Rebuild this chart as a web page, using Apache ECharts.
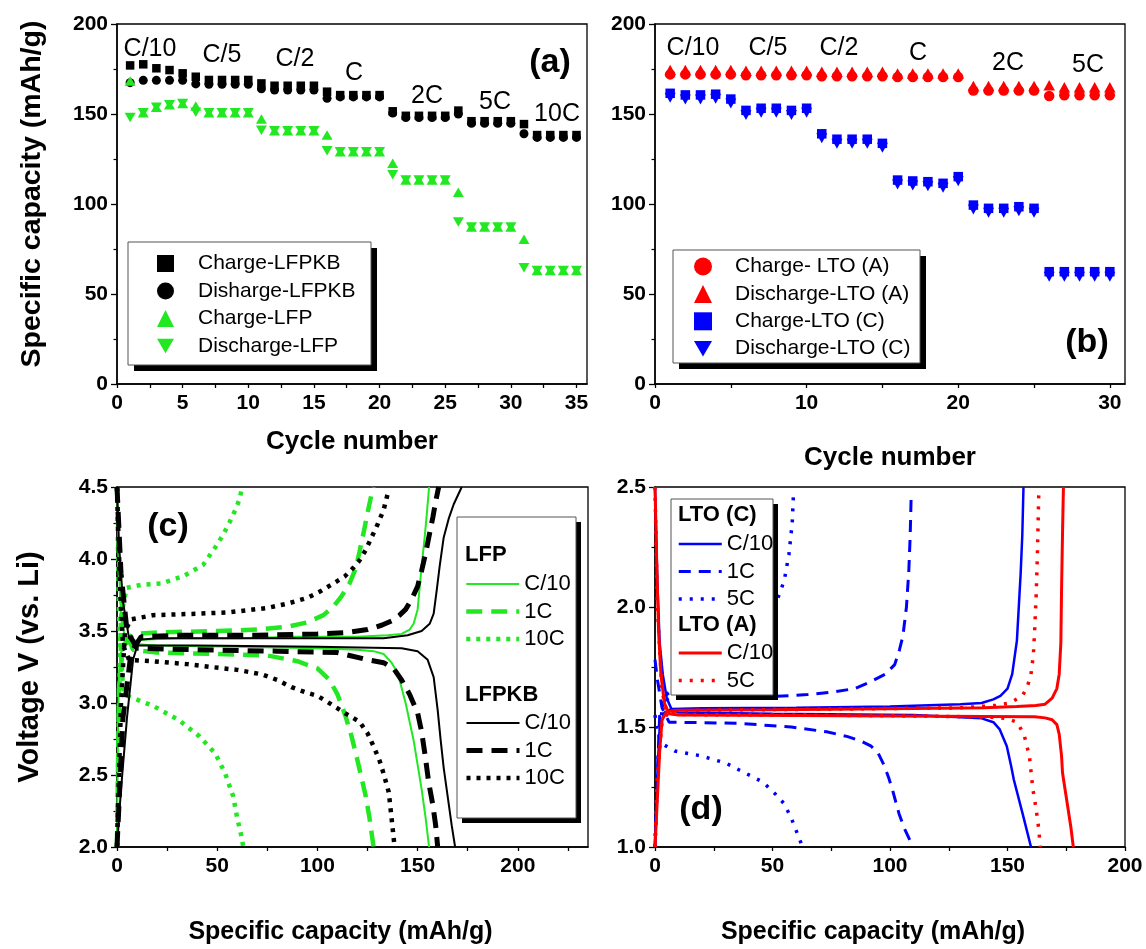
<!DOCTYPE html>
<html>
<head>
<meta charset="utf-8">
<script src="https://cdn.jsdelivr.net/npm/echarts@6/dist/echarts.min.js"></script>
<style>
html, body { margin: 0; padding: 0; background: #fff; }
#chart { width: 1146px; height: 949px; }
</style>
</head>
<body>
<div id="chart"></div>
<script>
// ---------- (a) rate capability, LFP vs LFPKB ----------
const cycleA = [1,2,3,4,5,6,7,8,9,10,11,12,13,14,15,16,17,18,19,20,21,22,23,24,25,26,27,28,29,30,31,32,33,34,35];
const chargeLFPKB = [177,177.6,175.4,174.4,172.6, 170.7,168.9,168.9,168.9,168.9, 167,165.7,165.7,165.7,165.7, 162.4,160.5,160.5,160.5,160.5, 151.5,149,149,149,149, 151.9,146,146,146,146, 144.4,138.3,138.3,138.3,138.3];
const dischargeLFPKB = [167.4,168.7,168.7,168.7,168.7, 166.7,166.5,166.5,166.5,166.5, 164,163.3,163.3,163.3,163.3, 158.7,159.5,159.5,159.5,159.5, 150.5,148,148,148,148, 150,144.8,144.8,144.8,144.8, 139,137,137,137,137];
const chargeLFP = [168.3,150.7,153.7,155.2,155.9, 154.4,150.7,150.7,150.7,150.7, 147.2,140.7,140.7,140.7,140.7, 138.3,129,129,129,129, 122.6,113.3,113.3,113.3,113.3, 106.5,87.2,87.2,87.2,87.2, 80.4,63.1,63.1,63.1,63.1];
const dischargeLFP = [148,150.7,153.7,155.2,155.9, 151,150.7,150.7,150.7,150.7, 141,140.7,140.7,140.7,140.7, 129.6,129,129,129,129, 116.3,113.3,113.3,113.3,113.3, 90,87.2,87.2,87.2,87.2, 64.6,63.1,63.1,63.1,63.1];
const rateLabelsA = ['C/10','C/5','C/2','C','2C','5C','10C'];

// ---------- (b) rate capability, LTO (A) vs LTO (C) ----------
const cycleB = [1,2,3,4,5,6,7,8,9,10,11,12,13,14,15,16,17,18,19,20,21,22,23,24,25,26,27,28,29,30];
const chargeLTOA = [172,172,172,172,172, 171.5,171.5,171.5,171.5,171.5, 171,171,171,171,171, 170.5,170.5,170.5,170.5,170.5, 163,163,163,163,163, 160,160.4,160.4,160.4,160.4];
const dischargeLTOA = [174.4,174.4,174.4,174.4,174.4, 174,174,174,174,174, 173.5,173.5,173.5,173.5,173.5, 172.5,172.5,172.5,172.5,172.5, 165.5,165.5,165.5,165.5,165.5, 166,164.8,164.8,164.8,164.8];
const chargeLTOC = [161.5,160.6,160.6,161,158.3, 152,153.2,153.2,152,153.2, 139,136,136,136,133.7, 113.3,112.8,112.4,111.5,115.2, 99.4,97.6,97.6,98.5,97.6, 62.4,62.4,62.4,62.4,62.4];
const dischargeLTOC = [159,158.1,158.1,158.5,155.8, 149.5,150.7,150.7,149.5,150.7, 136.5,133.5,133.5,133.5,131.2, 110.8,110.3,109.9,109,112.7, 96.9,95.1,95.1,96,95.1, 59.6,59.6,59.6,59.6,59.6];
const rateLabelsB = ['C/10','C/5','C/2','C','2C','5C'];

// ---------- (c) voltage profiles, LFP and LFPKB ----------
const lfpC10Charge = [[0,2.0],[0.5,2.8],[1,3.2],[2,3.35],[4,3.40],[8,3.43],[12,3.44],[30,3.45],[60,3.45],[90,3.46],[120,3.46],[135,3.47],[142,3.48],[146,3.51],[148,3.55],[150,3.65],[151,3.80],[152,3.95],[153.5,4.15],[154.5,4.3],[155.7,4.5]];
const lfpC10Discharge = [[0,4.5],[0.8,4.0],[2,3.6],[4,3.45],[8,3.41],[20,3.40],[60,3.39],[100,3.38],[120,3.37],[128,3.36],[133,3.34],[137,3.28],[140,3.21],[144,3.00],[148,2.74],[150,2.57],[152,2.40],[154,2.2],[155.7,2.0]];
const lfp1CCharge = [[0,2.0],[1,3.1],[3,3.4],[8,3.48],[20,3.49],[50,3.50],[70,3.51],[85,3.53],[95,3.56],[103,3.61],[108,3.67],[112,3.74],[116,3.83],[119,3.93],[121,4.05],[123,4.18],[125,4.32],[127,4.45],[128,4.5]];
const lfp1CDischarge = [[0,4.5],[1,4.0],[3,3.55],[8,3.37],[20,3.35],[50,3.34],[75,3.33],[90,3.29],[100,3.24],[106,3.16],[110,3.06],[114,2.91],[117,2.77],[119.5,2.63],[122,2.48],[124,2.36],[126,2.2],[128,2.0]];
const lfp10CCharge = [[0,2.0],[1,3.0],[2,3.6],[4.8,3.80],[12,3.82],[22,3.83],[33,3.88],[38,3.92],[43,3.96],[49,4.08],[53,4.17],[56,4.25],[59,4.34],[61,4.41],[62.5,4.5]];
const lfp10CDischarge = [[0,4.5],[1,3.6],[3,3.1],[5,3.05],[18,2.98],[31,2.88],[41,2.77],[49,2.65],[54,2.51],[58,2.35],[60,2.2],[62,2.08],[63,2.0]];
const lfpkbC10Charge = [[0,2.0],[2,2.4],[5,2.9],[8,3.3],[11,3.44],[20,3.45],[60,3.45],[100,3.45],[133,3.45],[145,3.47],[152,3.50],[156,3.55],[158,3.62],[159.5,3.78],[161,3.95],[163,4.15],[165.5,4.28],[168,4.38],[172,4.5]];
const lfpkbC10Discharge = [[0,4.5],[1,4.1],[3,3.7],[6,3.45],[10,3.40],[40,3.40],[100,3.39],[142,3.38],[150,3.36],[155,3.30],[158,3.18],[160,2.95],[161.5,2.74],[163,2.55],[165,2.35],[167,2.15],[168.7,2.0]];
const lfpkb1CCharge = [[0,2.0],[3,2.9],[7,3.35],[12,3.46],[30,3.47],[70,3.47],[100,3.48],[115,3.49],[125,3.51],[132,3.54],[137,3.57],[141,3.61],[144,3.65],[147,3.72],[150,3.81],[152,3.92],[154,4.04],[156,4.18],[157.6,4.29],[159,4.40],[160.5,4.5]];
const lfpkb1CDischarge = [[0,4.5],[2,3.9],[5,3.5],[10,3.38],[40,3.37],[80,3.36],[110,3.35],[125,3.30],[133,3.28],[138,3.24],[142,3.16],[146,3.06],[150,2.93],[152,2.80],[153.8,2.63],[155.5,2.45],[157.6,2.29],[159,2.15],[160,2.0]];
const lfpkb10CCharge = [[0,2.0],[2,3.0],[4,3.5],[7,3.58],[18,3.61],[40,3.62],[56,3.63],[75,3.66],[85,3.69],[95,3.73],[102,3.78],[108,3.83],[113.7,3.88],[118,3.94],[121,3.99],[124,4.06],[127,4.15],[130,4.24],[133,4.34],[135,4.45]];
const lfpkb10CDischarge = [[0,4.5],[1.5,3.8],[3,3.4],[6,3.30],[18,3.29],[35,3.27],[47,3.25],[60,3.23],[72,3.20],[80,3.16],[87,3.11],[95,3.07],[100,3.05],[107,2.99],[113.7,2.93],[121,2.87],[125,2.79],[128,2.70],[131,2.60],[133,2.51],[135.6,2.38],[137,2.2],[138.5,2.0]];

// ---------- (d) voltage profiles, LTO (C) and LTO (A) ----------
const ltoCC10Charge = [[0,1.0],[1,1.3],[2,1.5],[4,1.56],[7,1.575],[20,1.578],[60,1.58],[100,1.585],[130,1.595],[139,1.60],[144,1.615],[147,1.63],[150,1.66],[152,1.72],[154,1.86],[155.6,2.14],[156.3,2.3],[156.8,2.5]];
const ltoCC10Discharge = [[0,2.5],[1,2.1],[2,1.85],[3.3,1.72],[5,1.62],[7,1.575],[10,1.56],[50,1.555],[110,1.55],[139,1.536],[144,1.52],[146.7,1.49],[149.7,1.42],[151.5,1.34],[152.7,1.28],[156.4,1.14],[160,1.0]];
const ltoC1CCharge = [[0,1.0],[1,1.3],[2,1.55],[4,1.61],[8,1.625],[30,1.626],[50,1.627],[65,1.635],[75,1.645],[85,1.66],[92,1.69],[98,1.72],[102,1.76],[104,1.82],[105.5,1.88],[107,2.0],[108,2.15],[108.6,2.3],[109,2.46]];
const ltoC1CDischarge = [[0,1.78],[1,1.70],[3,1.58],[6,1.52],[20,1.518],[36,1.515],[58,1.50],[73,1.48],[82,1.46],[88,1.44],[92,1.42],[95,1.39],[97.5,1.34],[99.4,1.29],[101,1.24],[103.8,1.14],[106,1.08],[109.8,1.0]];
const ltoC5CCharge = [[0,1.0],[1,1.3],[2,1.5],[4,1.63],[10,1.67],[20,1.71],[30,1.76],[40,1.83],[46,1.90],[50,1.97],[52,2.03],[55,2.11],[57,2.22],[58.4,2.35],[59,2.49]];
const ltoC5CDischarge = [[0,1.55],[1,1.48],[3,1.43],[8.4,1.40],[19.5,1.38],[30,1.35],[36,1.32],[46,1.27],[51.3,1.22],[55,1.18],[58,1.12],[60,1.07],[62,1.02],[62.5,1.0]];
const ltoAC10Charge = [[0,1.0],[1,1.2],[2,1.4],[3,1.53],[5,1.565],[10,1.57],[50,1.572],[100,1.576],[140,1.58],[154,1.585],[162,1.59],[166,1.595],[169,1.62],[171,1.66],[172,1.72],[172.7,1.85],[173,2.07],[173.4,2.3],[173.8,2.5]];
const ltoAC10Discharge = [[0,2.5],[0.7,2.2],[1.5,1.9],[2.5,1.72],[4,1.6],[6,1.555],[10,1.55],[60,1.548],[120,1.545],[161.5,1.543],[166,1.538],[169,1.53],[171,1.51],[172,1.47],[173,1.38],[173.4,1.31],[174.5,1.24],[175.6,1.17],[177,1.08],[178,1.0]];
const ltoA5CCharge = [[0,1.0],[1,1.3],[3,1.52],[6,1.565],[20,1.57],[80,1.575],[130,1.58],[145,1.59],[151,1.60],[156.4,1.63],[158.5,1.67],[160,1.72],[161,1.8],[161.5,1.89],[162.2,2.05],[162.7,2.21],[163.3,2.47]];
const ltoA5CDischarge = [[0,2.5],[1,2.0],[3,1.65],[5,1.56],[10,1.552],[60,1.55],[120,1.545],[145,1.54],[150,1.535],[154,1.52],[157,1.47],[159.3,1.38],[160.8,1.24],[162,1.17],[163,1.10],[164,1.0]];

// ---------- styling ----------
const FONT = "'Liberation Sans', Arial, Helvetica, sans-serif";
const GREEN = '#22e822', BLACK = '#000000', RED = '#ff0000', BLUE = '#0000ff';
const DOWN_TRIANGLE = 'path://M0,0L12,0L6,10.4Z';

const pairs = (xs, ys) => xs.map((x, i) => [x, ys[i]]);

function axisBase() {
  return {
    type: 'value',
    axisLine: { show: true, onZero: false, lineStyle: { color: '#000', width: 1.5 } },
    axisTick: { show: true, inside: false, length: 6, lineStyle: { color: '#000', width: 1.3 } },
    minorTick: { show: true, splitNumber: 2, length: 3.5, lineStyle: { color: '#000', width: 1.2 } },
    splitLine: { show: false },
    minorSplitLine: { show: false },
    axisLabel: { color: '#000', fontFamily: FONT, fontWeight: 'bold', fontSize: 21, margin: 9 },
    nameLocation: 'middle',
    nameTextStyle: { color: '#000', fontFamily: FONT, fontWeight: 'bold', fontSize: 26 }
  };
}
function xAxis(gridIndex, min, max, interval, name, nameGap, tickValues, nameShift, nameSize) {
  const a = axisBase();
  a.gridIndex = gridIndex; a.min = min; a.max = max; a.interval = interval;
  a.name = name; a.nameGap = nameGap;
  a.axisLabel.showMaxLabel = (max % interval === 0);
  if (nameShift) a.nameTextStyle.padding = [0, nameShift, 0, 0];
  if (nameSize) a.nameTextStyle.fontSize = nameSize;
  if (tickValues) {
    a.axisTick.customValues = tickValues;
    a.axisTick.length = 4;
    a.minorTick.show = false;
  }
  return a;
}
function yAxis(gridIndex, min, max, interval, name, nameGap, fmt, nameSize, nameShift) {
  const a = axisBase();
  a.gridIndex = gridIndex; a.min = min; a.max = max; a.interval = interval;
  a.name = name; a.nameGap = nameGap;
  if (nameSize) a.nameTextStyle.fontSize = nameSize;
  if (nameShift) a.nameTextStyle.padding = [0, 0, 0, nameShift];
  if (fmt) a.axisLabel.formatter = fmt;
  return a;
}
function scatter(name, idx, xs, ys, symbol, size, color) {
  return { name, type: 'scatter', xAxisIndex: idx, yAxisIndex: idx, symbol, symbolSize: size,
    itemStyle: { color, opacity: 1 }, data: pairs(xs, ys), silent: true };
}
function curve(name, idx, data, color, width, dash) {
  return { name, type: 'line', xAxisIndex: idx, yAxisIndex: idx, data, symbol: 'none', showSymbol: false,
    color, lineStyle: { color, width, type: dash, cap: 'butt' }, silent: true, z: 2 };
}
function range(a, b, s) { const r = []; for (let v = a; v <= b + 1e-9; v += s) r.push(+v.toFixed(3)); return r; }
const fmt1 = v => v.toFixed(1);

const DASH_G = [16, 9], DOT_G = [4, 6];
const DASH_D = [12, 8], DOT_D = [3, 8];

const series = [
  // (a)
  scatter('Charge-LFPKB', 0, cycleA, chargeLFPKB, 'rect', 8.5, BLACK),
  scatter('Disharge-LFPKB', 0, cycleA, dischargeLFPKB, 'circle', 9, BLACK),
  scatter('Charge-LFP', 0, cycleA, chargeLFP, 'triangle', [11, 9.5], GREEN),
  scatter('Discharge-LFP', 0, cycleA, dischargeLFP, DOWN_TRIANGLE, [11, 9.5], GREEN),
  // (b)
  scatter('Charge- LTO (A)', 1, cycleB, chargeLTOA, 'circle', 10.5, RED),
  scatter('Discharge-LTO (A)', 1, cycleB, dischargeLTOA, 'triangle', [11.5, 10.5], RED),
  scatter('Charge-LTO (C)', 1, cycleB, chargeLTOC, 'rect', 9.5, BLUE),
  scatter('Discharge-LTO (C)', 1, cycleB, dischargeLTOC, DOWN_TRIANGLE, [11, 10], BLUE),
  // (c)
  curve('LFP|C/10', 2, lfpC10Charge, GREEN, 2, 'solid'),
  curve('LFP|C/10', 2, lfpC10Discharge, GREEN, 2, 'solid'),
  curve('LFP|1C', 2, lfp1CCharge, GREEN, 4.5, DASH_G),
  curve('LFP|1C', 2, lfp1CDischarge, GREEN, 4.5, DASH_G),
  curve('LFP|10C', 2, lfp10CCharge, GREEN, 4.5, DOT_G),
  curve('LFP|10C', 2, lfp10CDischarge, GREEN, 4.5, DOT_G),
  curve('LFPKB|C/10', 2, lfpkbC10Charge, BLACK, 2, 'solid'),
  curve('LFPKB|C/10', 2, lfpkbC10Discharge, BLACK, 2, 'solid'),
  curve('LFPKB|1C', 2, lfpkb1CCharge, BLACK, 5, DASH_G),
  curve('LFPKB|1C', 2, lfpkb1CDischarge, BLACK, 5, DASH_G),
  curve('LFPKB|10C', 2, lfpkb10CCharge, BLACK, 4.5, DOT_G),
  curve('LFPKB|10C', 2, lfpkb10CDischarge, BLACK, 4.5, DOT_G),
  // (d)
  curve('LTO (C)|C/10', 3, ltoCC10Charge, BLUE, 2.5, 'solid'),
  curve('LTO (C)|C/10', 3, ltoCC10Discharge, BLUE, 2.5, 'solid'),
  curve('LTO (C)|1C', 3, ltoC1CCharge, BLUE, 3, DASH_D),
  curve('LTO (C)|1C', 3, ltoC1CDischarge, BLUE, 3, DASH_D),
  curve('LTO (C)|5C', 3, ltoC5CCharge, BLUE, 3.5, DOT_D),
  curve('LTO (C)|5C', 3, ltoC5CDischarge, BLUE, 3.5, DOT_D),
  curve('LTO (A)|C/10', 3, ltoAC10Charge, RED, 3, 'solid'),
  curve('LTO (A)|C/10', 3, ltoAC10Discharge, RED, 3, 'solid'),
  curve('LTO (A)|5C', 3, ltoA5CCharge, RED, 3.5, DOT_D),
  curve('LTO (A)|5C', 3, ltoA5CDischarge, RED, 3.5, DOT_D)
];

function markerLegend(names, left, top, gap, iconSize, textPad) {
  return {
    orient: 'vertical', left, top, data: names, selectedMode: false,
    itemWidth: iconSize, itemHeight: iconSize, itemGap: gap, padding: 0,
    formatter: n => '{t|' + n + '}',
    textStyle: { rich: { t: { fontFamily: FONT, fontSize: 21, color: '#000', padding: [0, 0, 0, textPad], lineHeight: iconSize } } },
    z: 10
  };
}
function lineLegend(names, left, top, lineLen) {
  return {
    orient: 'vertical', left, top, data: names, selectedMode: false,
    itemWidth: lineLen, itemHeight: 14, itemGap: 5.5, padding: 0,
    lineStyle: { width: 'inherit' },
    itemStyle: { opacity: 0 },
    formatter: n => n.split('|')[1],
    textStyle: { fontFamily: FONT, fontSize: 22, lineHeight: 22, color: '#000' },
    z: 10
  };
}

function txt(x, y, text, size, bold, align) {
  return { type: 'text', x, y, z: 6,
    style: { text, fill: '#000', font: (bold ? 'bold ' : '') + size + 'px ' + FONT,
      textAlign: align || 'center', textVerticalAlign: 'middle' } };
}
function legendBox(x, y, w, h, off) {
  return [
    { type: 'rect', shape: { x: x + off, y: y + off, width: w, height: h }, style: { fill: '#000' }, z: 3, silent: true },
    { type: 'rect', shape: { x, y, width: w, height: h }, style: { fill: '#fff', stroke: '#555', lineWidth: 1 }, z: 3, silent: true }
  ];
}

const rateXA = [150, 222, 295, 354, 427, 495, 557];
const rateYA = [49, 55, 59, 73, 96, 102, 114];
const rateXB = [693, 768, 839, 918, 1008, 1088];
const rateYB = [48, 48, 48, 53, 63, 65];

const graphics = [].concat(
  rateLabelsA.map((t, i) => txt(rateXA[i], rateYA[i], t, 25, false)),
  rateLabelsB.map((t, i) => txt(rateXB[i], rateYB[i], t, 25, false)),
  [txt(550, 63, '(a)', 34, true), txt(1087, 343, '(b)', 34, true),
   txt(168, 527, '(c)', 34, true), txt(701, 810, '(d)', 34, true)],
  legendBox(128, 242, 243, 123, 6),
  legendBox(673, 250, 247, 113, 6),
  legendBox(457, 517, 119, 301, 5),
  [txt(465, 555, 'LFP', 22, true, 'left'), txt(465, 695, 'LFPKB', 22, true, 'left')],
  legendBox(671, 499, 102, 196, 5),
  [txt(678, 515, 'LTO (C)', 22, true, 'left'), txt(678, 625, 'LTO (A)', 22, true, 'left')]
);

const option = {
  animation: false,
  backgroundColor: '#fff',
  textStyle: { fontFamily: FONT },
  grid: [
    { left: 117, top: 24, width: 470, height: 360, show: true, borderColor: '#000', borderWidth: 1.3, backgroundColor: 'transparent' },
    { left: 655, top: 24, width: 470, height: 360, show: true, borderColor: '#000', borderWidth: 1.3, backgroundColor: 'transparent' },
    { left: 117, top: 487, width: 471, height: 360, show: true, borderColor: '#000', borderWidth: 1.3, backgroundColor: 'transparent' },
    { left: 655, top: 487, width: 470, height: 360, show: true, borderColor: '#000', borderWidth: 1.3, backgroundColor: 'transparent' }
  ],
  xAxis: [
    xAxis(0, 0, 35.8, 5, 'Cycle number', 45, range(0, 35, 2.5)),
    xAxis(1, 0, 31, 10, 'Cycle number', 61, range(0, 30, 5)),
    xAxis(2, 0, 235, 50, 'Specific capacity (mAh/g)', 73, range(0, 225, 25), 24, 25),
    xAxis(3, 0, 200, 50, 'Specific capacity (mAh/g)', 73, range(0, 200, 25), 34, 25)
  ],
  yAxis: [
    yAxis(0, 0, 200, 50, 'Specific capacity (mAh/g)', 70, null, 28.5, 20),
    yAxis(1, 0, 200, 50, '', 60),
    yAxis(2, 2, 4.5, 0.5, 'Voltage V (vs. Li)', 73, fmt1, 29),
    yAxis(3, 1, 2.5, 0.5, '', 60, fmt1)
  ],
  legend: [
    markerLegend(['Charge-LFPKB', 'Disharge-LFPKB', 'Charge-LFP', 'Discharge-LFP'], 157, 253, 6.5, 17, 19),
    markerLegend(['Charge- LTO (A)', 'Discharge-LTO (A)', 'Charge-LTO (C)', 'Discharge-LTO (C)'], 694, 256, 6.4, 18, 18),
    lineLegend(['LFP|C/10', 'LFP|1C', 'LFP|10C'], 464, 573, 53),
    lineLegend(['LFPKB|C/10', 'LFPKB|1C', 'LFPKB|10C'], 464, 712, 53),
    lineLegend(['LTO (C)|C/10', 'LTO (C)|1C', 'LTO (C)|5C'], 677, 533, 43),
    lineLegend(['LTO (A)|C/10', 'LTO (A)|5C'], 677, 642, 43)
  ],
  graphic: graphics,
  series
};

const chart = echarts.init(document.getElementById('chart'), null, { renderer: 'canvas' });
chart.setOption(option);
</script>
</body>
</html>
